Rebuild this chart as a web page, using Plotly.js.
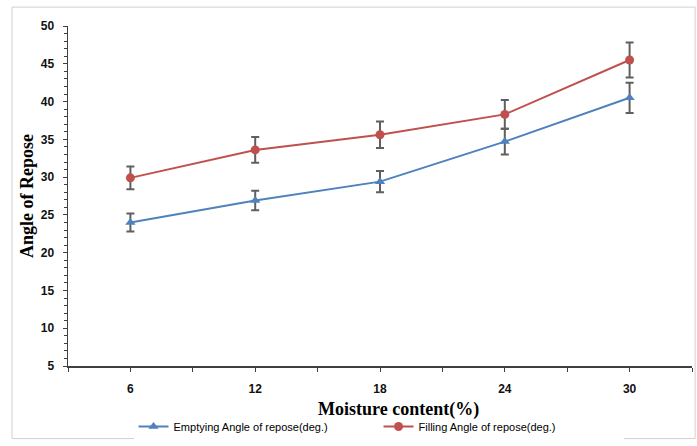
<!DOCTYPE html>
<html>
<head>
<meta charset="utf-8">
<script src="https://cdn.plot.ly/plotly-3.0.1.min.js"></script>
<style>html,body{margin:0;padding:0;background:#fff;}#chart{width:697px;height:446px;}</style>
</head>
<body>
<div id="chart"></div>
<script>
const moisture = [6, 12, 18, 24, 30];
const emptyingAngle = [24.0, 26.9, 29.4, 34.7, 40.5];
const emptyingErr = [1.2, 1.3, 1.4, 1.7, 2.0];
const fillingAngle = [29.9, 33.6, 35.6, 38.3, 45.5];
const fillingErr = [1.5, 1.7, 1.75, 1.9, 2.3];
const seriesNames = ['Emptying Angle of repose(deg.)', 'Filling Angle of repose(deg.)'];
const xTitle = 'Moisture content(%)';
const yTitle = 'Angle of Repose';

const errStyle = {type: 'data', visible: true, color: '#5f5f5f', thickness: 2, width: 4};

const traces = [
  {x: moisture, y: emptyingAngle, name: seriesNames[0], type: 'scatter', mode: 'lines+markers',
   line: {color: '#4F81BD', width: 2}, marker: {symbol: 'triangle-up', size: 9, color: '#4F81BD'},
   error_y: Object.assign({array: emptyingErr}, errStyle)},
  {x: moisture, y: fillingAngle, name: seriesNames[1], type: 'scatter', mode: 'lines+markers',
   line: {color: '#C0504D', width: 2}, marker: {symbol: 'circle', size: 9, color: '#C0504D'},
   error_y: Object.assign({array: fillingErr}, errStyle)}
];

const layout = {
  width: 697, height: 446,
  margin: {l: 68, r: 5, t: 26, b: 78},
  paper_bgcolor: '#fff', plot_bgcolor: '#fff',
  showlegend: true,
  legend: {orientation: 'h', x: 0.105, xanchor: 'left', y: -0.178, yanchor: 'middle',
           font: {family: 'Liberation Sans, Arial, sans-serif', size: 11, color: '#000'},
           itemwidth: 30, entrywidth: 200, tracegroupgap: 0},
  xaxis: {range: [3, 33], tickmode: 'linear', tick0: 6, dtick: 6,
          showgrid: false, zeroline: false, showline: true, linecolor: '#404040', linewidth: 1.5,
          ticks: 'outside', ticklen: 4, tickcolor: '#404040',
          minor: {dtick: 3, tick0: 3, ticks: 'outside', ticklen: 4, tickcolor: '#404040', showgrid: false},
          ticklabelstandoff: 7,
          tickfont: {family: 'Liberation Sans, Arial, sans-serif', size: 12, color: '#111', weight: 'bold'}},
  yaxis: {range: [5, 50], tickmode: 'linear', tick0: 5, dtick: 5,
          showgrid: false, zeroline: false, showline: true, linecolor: '#404040', linewidth: 1.5,
          ticks: 'outside', ticklen: 4, tickcolor: '#404040',
          minor: {dtick: 1, ticks: 'outside', ticklen: 3, tickcolor: '#404040', showgrid: false},
          ticklabelstandoff: 6,
          tickfont: {family: 'Liberation Sans, Arial, sans-serif', size: 12, color: '#111', weight: 'bold'},
          title: {text: yTitle, standoff: 2,
                  font: {family: 'Liberation Serif, Times New Roman, serif', size: 18, color: '#000', weight: 'bold'}}},
  annotations: [{text: xTitle, xref: 'paper', yref: 'paper', x: 0.53, y: -0.128, xanchor: 'center', yanchor: 'middle',
                 showarrow: false,
                 font: {family: 'Liberation Serif, Times New Roman, serif', size: 18, color: '#000', weight: 'bold'}}],
  shapes: [{type: 'rect', xref: 'paper', yref: 'paper', x0: -0.0897, x1: 1.005, y0: -0.2135, y1: 1.0556,
            line: {color: '#d0d0d0', width: 1}, fillcolor: 'rgba(0,0,0,0)'}]
};

Plotly.newPlot('chart', traces, layout, {displayModeBar: false, staticPlot: true});
</script>
</body>
</html>
